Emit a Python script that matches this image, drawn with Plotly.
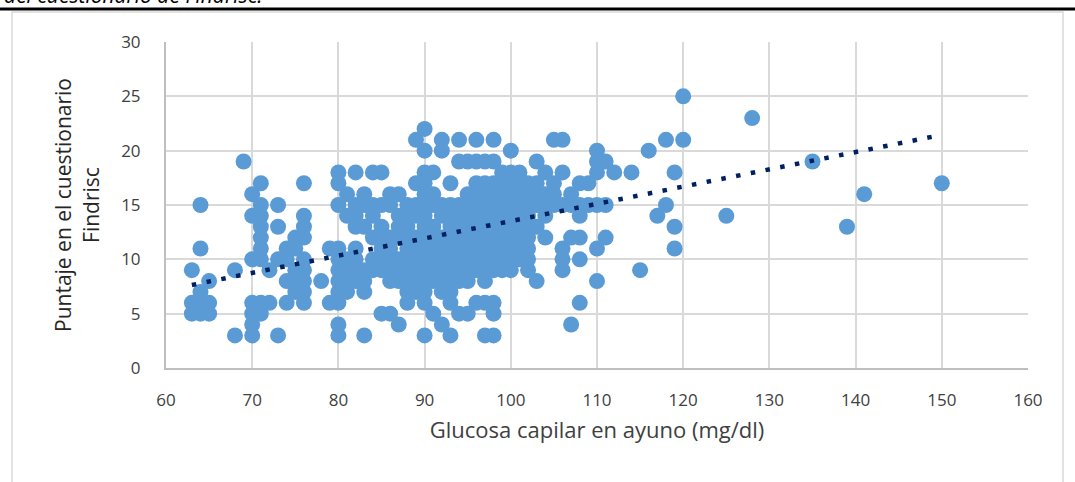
import plotly.graph_objects as go

# Glucose (x) columns and the Findrisc scores (y) observed at each
columns = {
    63: [9, 6, 5],
    64: [15, 11, 7, 6, 5],
    65: [8, 6, 5],
    68: [9, 3],
    69: [19],
    70: [16, 14, 10, 6, 5, 4, 3],
    71: [17, 15, 14, 13, 12, 11, 10, 6, 5],
    72: [9, 6],
    73: [15, 13, 10, 3],
    74: [11, 10, 8, 6],
    75: [12, 11, 9, 8, 7],
    76: [17, 14, 13, 12, 10, 9, 8, 7, 6],
    78: [8],
    79: [11, 6],
    80: [18, 17, 15, 11, 10, 9, 8, 7, 6, 4, 3],
    81: [16, 14, 10, 9, 8, 7],
    82: [18, 15, 14, 13, 11, 10, 9, 8],
    83: [16, 15, 13, 9, 8, 7, 3],
    84: [18, 15, 14, 12, 10, 9],
    85: [18, 15, 13, 12, 11, 10, 9, 5],
    86: [16, 15, 12, 11, 10, 9, 8, 5],
    87: [16, 14, 13, 12, 10, 9, 8, 4],
    88: [15, 14, 13, 12, 11, 10, 9, 8, 7, 6],
    89: [21, 17, 15, 14, 12, 11, 10, 9, 8, 7],
    90: [22, 20, 18, 17, 16, 15, 14, 13, 12, 11, 10, 9, 8, 7, 6, 3],
    91: [18, 16, 15, 13, 12, 11, 10, 9, 8, 5],
    92: [21, 20, 15, 14, 12, 11, 10, 9, 8, 7, 4],
    93: [17, 15, 14, 13, 12, 11, 10, 9, 8, 7, 6, 3],
    94: [21, 19, 15, 14, 13, 12, 11, 10, 9, 8, 5],
    95: [19, 16, 15, 14, 13, 12, 11, 10, 9, 8, 5],
    96: [21, 19, 17, 16, 15, 14, 13, 12, 11, 10, 9, 6],
    97: [19, 17, 16, 15, 14, 13, 12, 11, 10, 9, 8, 6, 3],
    98: [21, 19, 17, 16, 15, 14, 13, 12, 11, 10, 9, 6, 5, 3],
    99: [18, 17, 16, 15, 14, 13, 12, 11, 10, 9],
    100: [20, 18, 17, 16, 15, 14, 13, 12, 11, 10, 9],
    101: [18, 17, 16, 15, 14, 13, 12, 11, 10],
    102: [17, 16, 15, 14, 13, 12, 11, 10, 9],
    103: [19, 17, 16, 15, 13, 8],
    104: [18, 16, 15, 14, 12],
    105: [21, 17, 16, 15],
    106: [21, 18, 15, 11, 10, 9],
    107: [16, 15, 12, 4],
    108: [17, 15, 14, 12, 10, 6],
    109: [17, 15],
    110: [20, 19, 18, 15, 11, 8],
    111: [19, 15, 12],
    112: [18],
    114: [18],
    115: [9],
    116: [20],
    117: [14],
    118: [21, 15],
    119: [18, 13, 11],
    120: [25, 21],
    125: [14],
    128: [23],
    135: [19],
    139: [13],
    141: [16],
    150: [17],
}

glucose = [gx for gx, ys in columns.items() for _ in ys]
findrisc = [y for ys in columns.values() for y in ys]

# Linear trend line end points (as drawn in the reference)
trend_x = [63, 149]
trend_y = [7.64, 21.3]

x_ticks = [60, 70, 80, 90, 100, 110, 120, 130, 140, 150, 160]
y_ticks = [0, 5, 10, 15, 20, 25, 30]

caption = "del cuestionario de Findrisc."
x_title = "Glucosa capilar en ayuno (mg/dl)"
y_title = "Puntaje en el cuestionario<br>Findrisc"

FONT = "Open Sans"

fig = go.Figure()
fig.add_trace(go.Scatter(
    x=glucose, y=findrisc, mode="markers",
    marker=dict(color="#5B9BD5", size=16, line=dict(width=0)),
    showlegend=False, hoverinfo="x+y",
))
fig.add_trace(go.Scatter(
    x=trend_x, y=trend_y, mode="lines",
    line=dict(color="#002060", width=4.5, dash="4.5px,10.5px"),
    showlegend=False, hoverinfo="skip",
))

L, R, T, B = 166, 47, 42, 114
W, H = 1075, 482
pw, ph = W - L - R, H - T - B


def px_x(p):
    return (p - L) / pw


def px_y(p):
    return (H - B - p) / ph


fig.update_layout(
    width=W, height=H,
    margin=dict(l=L, r=R, t=T, b=B, autoexpand=False),
    paper_bgcolor="white", plot_bgcolor="white",
    font=dict(family=FONT, color="#404040", size=17),
    xaxis=dict(
        range=[60, 160], tickvals=x_ticks, ticktext=[str(v) for v in x_ticks],
        showgrid=True, gridcolor="#D9D9D9", gridwidth=1.5,
        showline=True, linecolor="#BFBFBF", linewidth=2,
        zeroline=False, ticks="", ticklabelstandoff=16, automargin=False,
        tickfont=dict(size=17, family=FONT, color="#404040"),
        title=dict(text=x_title, font=dict(size=22, family=FONT, color="#404040"), standoff=12),
    ),
    yaxis=dict(
        range=[0, 30], tickvals=y_ticks, ticktext=[str(v) for v in y_ticks],
        showgrid=True, gridcolor="#D9D9D9", gridwidth=1.5,
        showline=True, linecolor="#BFBFBF", linewidth=2,
        zeroline=False, ticks="", ticklabelstandoff=20, automargin=False,
        tickfont=dict(size=17, family=FONT, color="#404040"),
        title=dict(text=y_title, font=dict(size=21, family=FONT, color="#262626"), standoff=16),
    ),
    shapes=[
        # outer chart border
        dict(type="rect", xref="paper", yref="paper",
             x0=px_x(12), x1=px_x(1063), y0=px_y(495), y1=px_y(12),
             line=dict(color="#D9D9D9", width=1.5), fillcolor="rgba(0,0,0,0)", layer="below"),
        # black rule under the caption
        dict(type="line", xref="paper", yref="paper",
             x0=px_x(0), x1=px_x(1075), y0=px_y(9), y1=px_y(9),
             line=dict(color="black", width=3)),
    ],
    annotations=[
        dict(text="<i>" + caption + "</i>", xref="paper", yref="paper",
             x=px_x(2), y=px_y(11), xanchor="left", yanchor="bottom",
             showarrow=False, font=dict(size=21, family=FONT, color="black")),
    ],
)

fig.write_html(
    "out.html",
    config={"displayModeBar": False},
    post_script="document.body.style.margin='0';document.body.style.padding='0';",
)
